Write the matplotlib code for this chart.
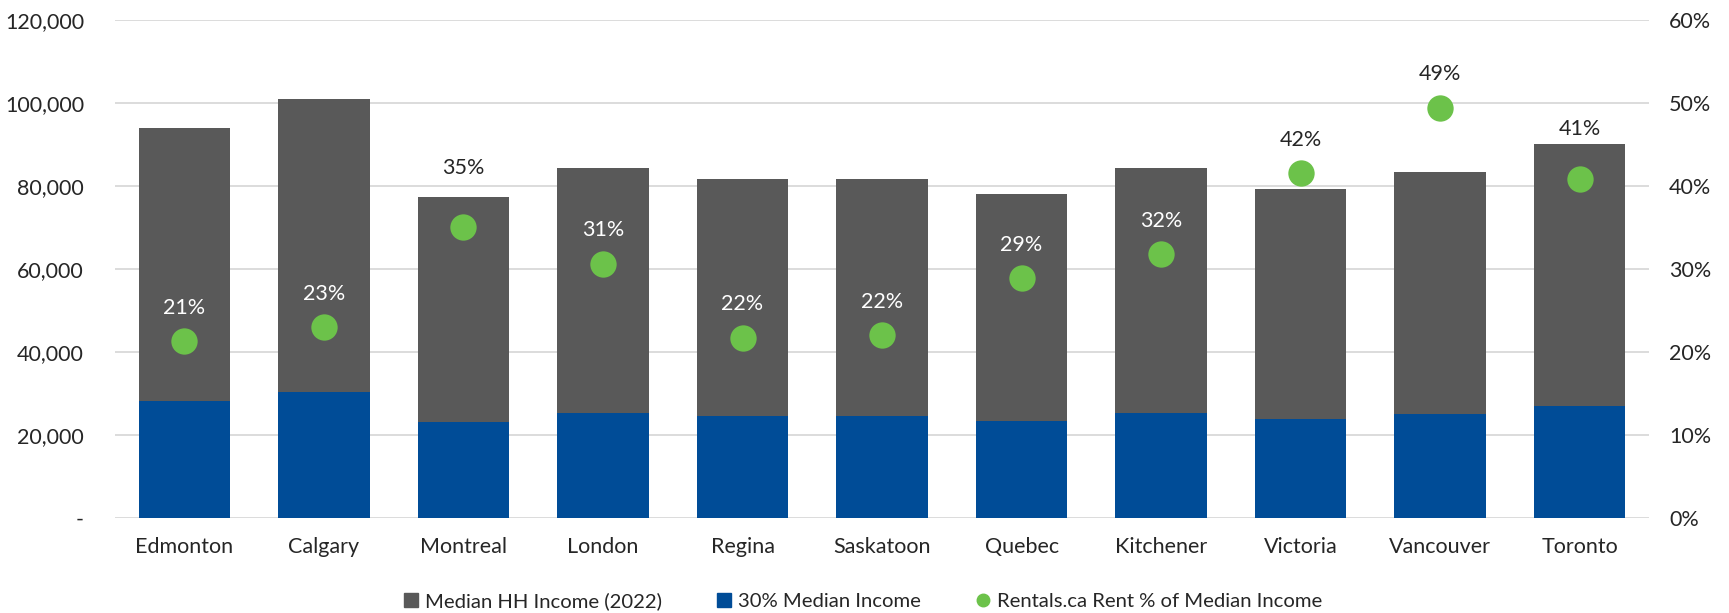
import matplotlib.pyplot as plt
from matplotlib.ticker import FuncFormatter
from matplotlib.lines import Line2D
from matplotlib.patches import Patch
import numpy as np

plt.rcParams['font.family'] = ['Lato', 'DejaVu Sans']

cities = ["Edmonton", "Calgary", "Montreal", "London", "Regina", "Saskatoon",
          "Quebec", "Kitchener", "Victoria", "Vancouver", "Toronto"]
median_income = [94000, 101000, 77200, 84300, 81700, 81600,
                 78000, 84300, 79200, 83400, 90000]
income_30 = [28200, 30300, 23200, 25300, 24500, 24500,
             23400, 25300, 23800, 25000, 27000]
rent_pct = [21.3, 23.0, 35.0, 30.6, 21.7, 22.0, 28.9, 31.8, 41.5, 49.4, 40.8]
# labels drawn inside the dark bar are white, the others dark
label_inside = [True, True, False, True, True, True, True, True, False, False, False]
# label offset above the dot (points); a couple were nudged up in the original
label_offset = [24, 24, 43, 24, 24, 24, 24, 24, 24, 24, 36]

GRAY = "#595959"
BLUE = "#004C97"
GREEN = "#6CC24A"
TXT = "#262626"

fig = plt.figure(figsize=(17.29, 6.13), dpi=100)
ax = fig.add_axes([0.0663, 0.155, 0.8877, 0.813])
x = np.arange(len(cities))

ax.bar(x, median_income, width=0.656, color=GRAY, zorder=2)
ax.bar(x, income_30, width=0.656, color=BLUE, zorder=3)
ax.set_ylim(0, 120000)
ax.set_xlim(-0.5, len(cities) - 0.5)
ax.set_yticks(np.arange(0, 120001, 20000))
ax.yaxis.set_major_formatter(FuncFormatter(lambda v, p: "-" if v == 0 else f"{int(v):,}"))
ax.grid(axis="y", color="#D9D9D9", linewidth=1.3, zorder=0)
ax.set_axisbelow(True)
ax.set_xticks(x)
ax.set_xticklabels(cities)
ax.tick_params(axis="both", length=0, labelsize=15.5, colors=TXT)
ax.tick_params(axis="x", pad=14)
ax.tick_params(axis="y", pad=22)
for s in ax.spines.values():
    s.set_visible(False)

ax2 = ax.twinx()
ax2.set_ylim(0, 60)
ax2.set_yticks(np.arange(0, 61, 10))
ax2.yaxis.set_major_formatter(FuncFormatter(lambda v, p: f"{int(v)}%"))
ax2.tick_params(axis="y", length=0, labelsize=15.5, colors=TXT, pad=14)
for s in ax2.spines.values():
    s.set_visible(False)
ax2.scatter(x, rent_pct, s=360, color=GREEN, zorder=5, linewidths=0)
for xi, v, inside, off in zip(x, rent_pct, label_inside, label_offset):
    ax2.annotate(f"{int(v + 0.5)}%", (xi, v), xytext=(0, off), textcoords="offset points",
                 ha="center", va="center", fontsize=15.5,
                 color="white" if inside else TXT)

handles = [Patch(color=GRAY), Patch(color=BLUE),
           Line2D([], [], marker="o", linestyle="", color=GREEN, markersize=9)]
labels = ["Median HH Income (2022)", "30% Median Income", "Rentals.ca Rent % of Median Income"]
fig.legend(handles, labels, loc="lower center", bbox_to_anchor=(0.499, -0.025), ncol=3,
           frameon=False, fontsize=14.6, handlelength=0.7, handleheight=0.7,
           handletextpad=0.35, columnspacing=2.7, labelcolor=TXT)

fig.savefig("out.png", dpi=100)
